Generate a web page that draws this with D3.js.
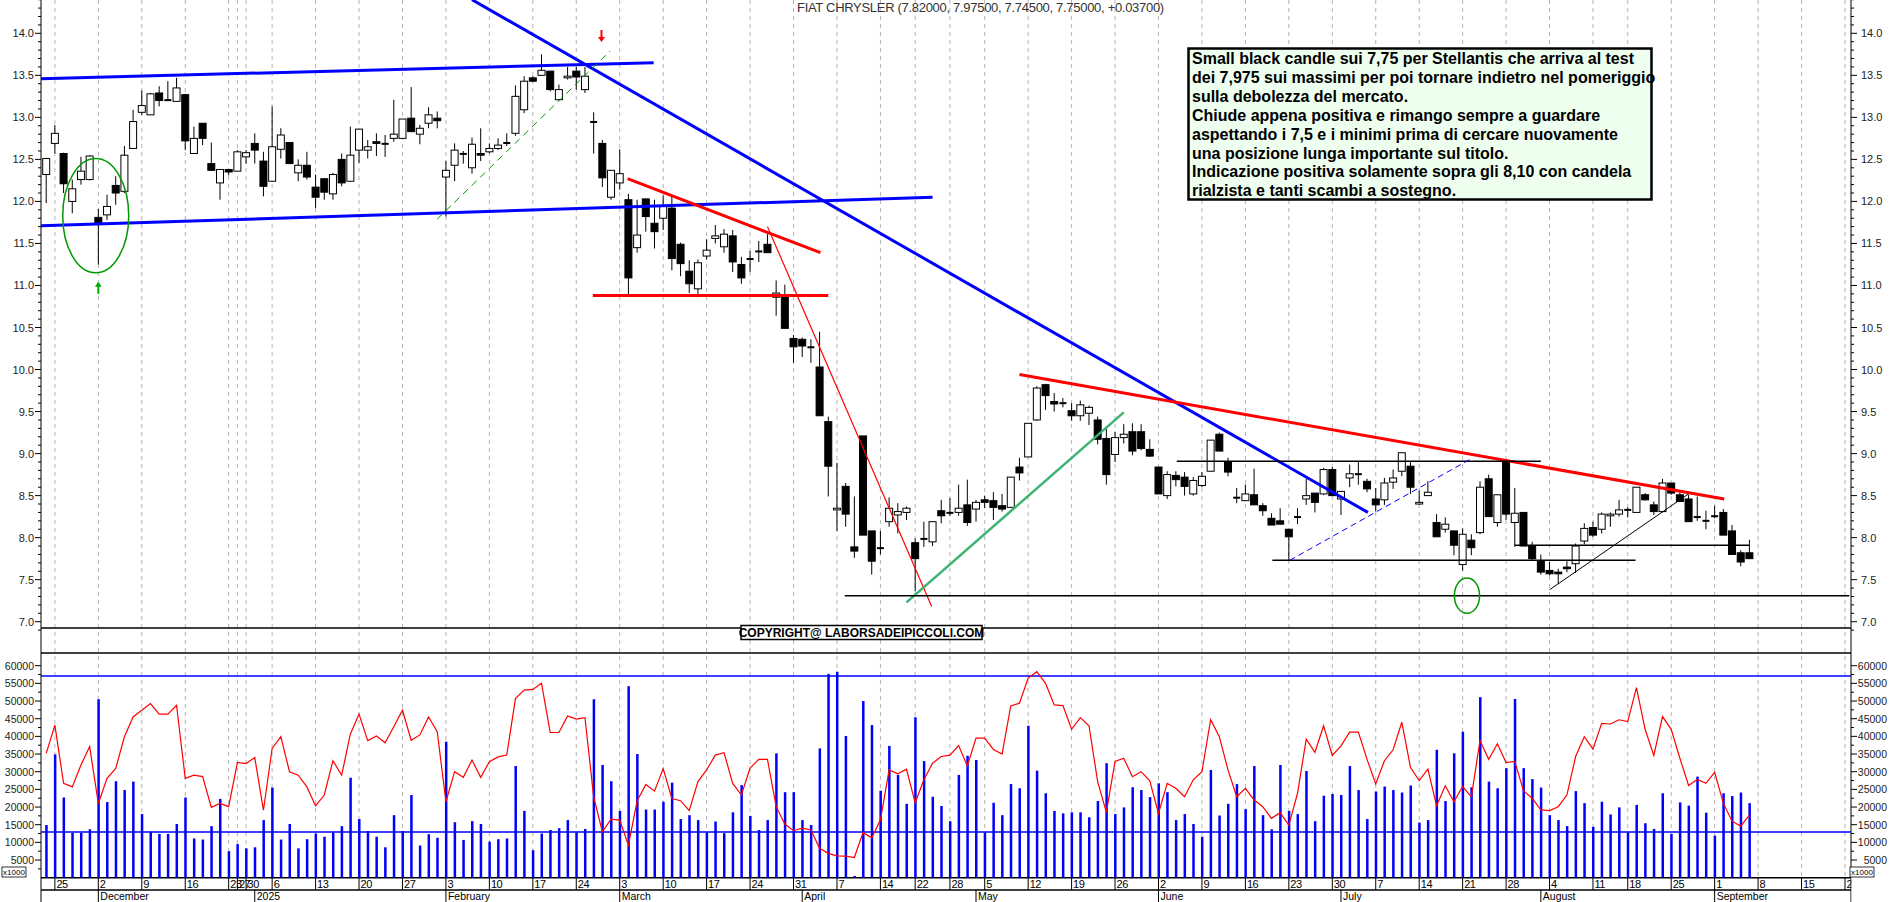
<!DOCTYPE html>
<html><head><meta charset="utf-8">
<script src="https://cdn.jsdelivr.net/npm/d3@7"></script>
<style>body{margin:0;background:#fff}svg{display:block}text{font-family:"Liberation Sans",Arial,sans-serif}</style>
</head><body>
<svg id="c" width="1890" height="902"></svg>
<script>
// ---------------- DATA ----------------
const startDate = "2024-11-22";
const endCalendar = "2025-09-30";
const holidays = ["2024-12-24","2024-12-25","2024-12-26","2024-12-31","2025-01-01","2025-04-18","2025-04-21","2025-05-01","2025-08-15"];
const nBars = 197;
const openP = [12.32,12.69,12.57,12.0,12.26,12.26,11.81,11.84,12.19,12.12,12.63,13.06,13.03,13.29,13.2,13.19,13.27,12.57,12.93,12.45,12.22,12.38,12.36,12.53,12.69,12.48,12.24,12.62,12.7,12.34,12.43,12.17,12.27,12.09,12.5,12.24,12.61,12.61,12.71,12.69,12.75,12.75,12.99,12.8,12.93,12.99,12.29,12.43,12.56,12.4,12.57,12.59,12.63,12.7,12.81,13.09,13.47,13.5,13.55,13.21,13.47,13.55,13.33,12.95,12.69,12.05,12.22,12.02,11.45,12.03,11.74,11.8,11.92,11.49,11.17,10.96,11.35,11.56,11.46,11.59,11.25,11.31,11.4,11.49,10.86,10.87,10.37,10.36,10.27,10.03,9.38,8.33,8.61,7.89,9.21,8.08,7.88,8.19,8.27,8.3,7.94,7.98,7.95,8.32,8.3,8.3,8.39,8.34,8.45,8.44,8.38,8.36,8.84,8.96,9.40,9.82,9.62,9.6,9.51,9.45,9.48,9.4,9.18,8.99,9.19,9.26,9.26,9.05,8.84,8.5,8.74,8.72,8.52,8.62,8.79,9.23,8.9,8.48,8.44,8.51,8.38,8.23,8.2,8.1,8.25,8.46,8.53,8.52,8.81,8.46,8.71,8.76,8.67,8.46,8.45,8.66,8.79,8.85,8.4,8.5,8.18,8.1,8.08,7.68,7.97,8.06,8.7,8.18,8.9,8.18,8.3,7.9,7.72,7.61,7.59,7.65,7.69,7.96,8.12,8.1,8.26,8.28,8.33,8.3,8.51,8.39,8.31,8.65,8.51,8.46,8.25,8.2,8.26,8.3,8.08,7.82,7.82];
const highP = [12.52,12.91,12.58,12.26,12.53,12.55,11.91,12.08,12.3,12.66,13.09,13.32,13.29,13.37,13.43,13.47,13.28,12.89,12.93,12.7,12.38,12.38,12.61,12.61,12.81,12.59,13.13,12.87,12.7,12.5,12.59,12.32,12.27,12.34,12.57,12.89,12.86,12.73,12.81,12.79,13.21,12.98,13.36,12.91,13.12,13.07,12.48,12.69,12.6,12.76,12.87,12.69,12.75,12.81,13.38,13.49,13.49,13.75,13.55,13.39,13.6,13.6,13.6,13.06,12.73,12.37,12.62,12.09,12.02,12.03,12.02,12.07,12.06,11.51,11.3,11.31,11.55,11.72,11.67,11.66,11.34,11.41,11.53,11.61,11.06,11.01,10.41,10.38,10.36,10.45,9.44,8.89,8.65,8.49,9.21,8.08,8.08,8.48,8.41,8.37,7.99,8.19,8.19,8.45,8.47,8.63,8.69,8.45,8.5,8.54,8.52,8.72,8.95,9.36,9.8,9.83,9.72,9.66,9.6,9.63,9.57,9.44,9.32,9.26,9.35,9.36,9.35,9.17,8.84,8.79,8.79,8.78,8.72,8.78,9.16,9.25,8.95,8.59,8.63,8.82,8.41,8.29,8.35,8.1,8.35,8.7,8.53,8.83,8.84,8.55,8.87,8.91,8.7,8.59,8.71,8.81,9.01,8.9,8.56,8.67,8.28,8.24,8.08,8.11,8.04,8.67,8.75,8.51,8.91,8.59,8.3,7.95,7.8,7.71,7.63,7.72,7.93,8.17,8.19,8.3,8.3,8.45,8.36,8.6,8.53,8.43,8.7,8.65,8.54,8.51,8.49,8.32,8.38,8.34,8.15,7.85,7.975];
const lowP = [11.98,12.57,12.10,11.86,12.2,12.25,11.25,11.78,11.96,12.1,12.63,13.03,13.03,13.13,13.2,13.19,12.61,12.57,12.67,12.37,12.02,12.31,12.36,12.45,12.45,12.06,12.24,12.51,12.45,12.24,12.26,11.92,12.02,12.02,12.18,12.24,12.46,12.51,12.54,12.53,12.71,12.75,12.83,12.68,12.87,12.87,11.82,12.24,12.45,12.33,12.48,12.57,12.61,12.66,12.78,13.05,13.42,13.5,13.31,13.2,13.45,13.33,13.29,12.57,12.17,12.02,12.14,10.87,11.39,11.64,11.44,11.66,11.18,11.11,10.91,10.86,11.31,11.5,11.39,11.16,11.02,11.16,11.28,11.39,10.64,10.49,10.08,10.15,10.08,9.45,8.49,8.08,8.13,7.76,8.03,7.56,7.80,8.13,8.05,8.21,7.36,7.89,7.9,8.17,8.26,8.26,8.14,8.19,8.35,8.21,8.31,8.36,8.68,8.96,9.39,9.52,9.50,9.55,9.39,9.39,9.34,9.11,8.63,8.9,9.12,8.98,9.04,8.96,8.52,8.46,8.61,8.5,8.5,8.6,8.79,9.03,8.73,8.41,8.44,8.39,8.26,8.15,8.16,7.72,8.16,8.39,8.3,8.51,8.5,8.27,8.6,8.63,8.54,8.31,8.39,8.58,8.73,8.52,8.39,8.5,8.01,8.06,7.79,7.61,7.79,8.04,8.25,8.13,8.21,7.89,7.9,7.73,7.56,7.55,7.45,7.59,7.58,7.92,8.01,8.05,8.13,8.25,8.24,8.3,8.44,8.27,8.3,8.51,8.43,8.19,8.2,8.1,8.23,8.03,7.8,7.66,7.745];
const closeP = [12.51,12.81,12.21,12.15,12.36,12.54,11.75,11.94,12.1,12.55,12.95,13.14,13.28,13.2,13.21,13.35,12.72,12.75,12.75,12.37,12.38,12.35,12.59,12.58,12.61,12.18,12.65,12.79,12.45,12.43,12.29,12.05,12.11,12.32,12.22,12.55,12.86,12.65,12.69,12.68,12.8,12.98,12.83,12.87,13.03,12.96,12.37,12.61,12.57,12.68,12.55,12.63,12.67,12.69,13.25,13.43,13.43,13.56,13.33,13.33,13.49,13.48,13.49,12.94,12.28,12.37,12.33,11.09,11.6,11.82,11.64,11.94,11.32,11.26,11.02,11.27,11.42,11.59,11.61,11.28,11.09,11.32,11.41,11.39,10.91,10.49,10.27,10.28,10.26,9.45,8.85,8.35,8.28,7.84,8.03,7.72,7.87,8.35,8.31,8.35,7.75,7.99,8.19,8.26,8.29,8.35,8.18,8.42,8.42,8.36,8.34,8.72,8.77,9.36,9.78,9.69,9.59,9.6,9.45,9.58,9.55,9.17,8.75,9.19,9.23,9.03,9.06,8.97,8.52,8.75,8.69,8.61,8.68,8.73,9.16,9.03,8.78,8.47,8.52,8.39,8.32,8.15,8.16,8.01,8.24,8.5,8.42,8.81,8.5,8.55,8.76,8.75,8.58,8.39,8.65,8.71,9.01,8.6,8.42,8.54,8.01,8.16,7.91,8.04,7.88,8.6,8.25,8.51,8.28,8.29,7.9,7.75,7.59,7.57,7.57,7.63,7.9,8.11,8.03,8.28,8.28,8.33,8.33,8.6,8.45,8.31,8.65,8.53,8.43,8.19,8.24,8.2,8.25,8.03,7.8,7.71,7.75];
// volume in thousands
const volume = [14.9,34.9,22.7,12.7,12.7,13.7,50.5,21.4,27.3,24.8,27.2,18.0,13.0,12.4,12.4,15.2,22.7,11.1,10.8,14.6,22.3,7.5,9.5,8.3,8.6,16.3,25.5,10.8,15.2,8.3,10.9,12.5,11.6,12.8,14.6,28.3,16.6,13.2,11.6,8.6,17.7,13.2,23.4,9.1,12.3,11.3,38.5,15.7,10.7,16.0,15.2,10.2,10.9,11.1,31.6,18.9,7.8,12.5,13.5,14.0,16.3,12.8,13.8,50.5,31.9,27.3,18.9,54.2,35.0,19.3,19.3,21.5,26.9,16.6,17.7,16.3,
12.8,15.9,12.6,18.5,26.2,17.5,13.5,16.3,35.2,24.2,24.2,16.3,14.9,36.6,57.7,58.3,40.1,0.5,50.0,43.2,24.6,37.3,29.1,20.9,45.4,33.0,22.9,20.3,16.0,29.1,34.5,33.3,12.8,21.2,17.7,26.5,25.3,43.0,30.3,23.9,18.9,18.2,18.5,18.5,17.1,21.7,32.4,18.0,19.9,25.6,24.8,22.8,26.7,24.2,16.3,18.0,15.2,11.6,30.5,17.6,20.9,26.5,19.4,31.6,17.7,13.7,31.9,18.9,18.0,
30.2,16.0,23.2,23.7,23.4,31.6,24.8,16.6,24.4,25.8,24.8,24.1,26.1,15.6,16.3,36.2,21.7,35.2,41.3,25.6,51.1,27.2,25.3,31.0,50.6,31.0,27.9,25.5,17.7,16.3,14.6,24.5,21.1,14.4,21.5,17.9,19.9,12.8,20.6,15.4,13.8,23.9,12.4,21.3,20.4,28.6,18.4,11.9,23.9,23.1,24.1,21.1];
const redLine = [35.2,43.2,26.7,25.7,31.9,37.1,21.0,28.1,30.9,39.9,45.5,47.4,49.3,46.3,46.3,48.8,28.1,29.0,28.6,19.9,21.0,20.1,32.6,32.3,34.0,19.1,36.6,39.9,30.0,29.0,25.7,20.3,23.4,33.1,29.0,40.6,46.3,38.8,40.1,38.2,42.7,47.4,38.9,40.4,45.5,41.3,21.5,30.0,28.4,33.3,28.4,32.8,34.2,34.7,50.7,53.1,53.3,55.0,41.1,41.1,45.8,44.9,45.3,22.9,13.0,16.6,16.3,9.2,21.7,26.4,24.5,30.9,22.4,21.8,19.0,27.2,
30.5,34.7,35.4,26.7,23.4,31.0,33.5,33.5,20.1,15.2,13.3,14.0,13.5,8.3,6.9,6.2,6.1,5.7,12.8,11.3,16.3,30.5,29.4,30.7,21.2,27.7,32.4,34.3,34.7,37.4,31.6,39.5,39.5,36.3,35.0,48.6,49.4,56.5,58.3,55.0,48.9,48.7,42.0,45.3,43.0,27.2,18.5,32.9,33.8,28.6,30.0,27.4,18.2,26.7,25.3,22.9,27.7,30.0,44.7,39.9,30.5,22.9,25.3,22.0,20.1,16.8,18.4,14.9,23.9,
39.2,35.5,43.0,34.6,37.3,41.2,41.2,33.5,26.5,33.1,36.2,44.0,31.2,27.5,30.7,20.4,26.0,21.5,25.8,22.9,38.8,33.5,37.9,32.6,32.9,24.6,22.5,19.2,19.0,20.1,23.4,34.3,39.9,36.4,43.7,43.5,44.7,44.2,53.8,42.0,34.6,45.6,42.0,33.8,26.1,27.8,26.7,29.8,21.1,16.0,14.6,17.7];
const volLevels = [57.1, 12.9];
const priceTicks = [7.0,7.5,8.0,8.5,9.0,9.5,10.0,10.5,11.0,11.5,12.0,12.5,13.0,13.5,14.0];
const volTicks = [5000,10000,15000,20000,25000,30000,35000,40000,45000,50000,55000,60000];
const monthNames = {"2024-12":"December","2025-01":"2025","2025-02":"February","2025-03":"March","2025-04":"April","2025-05":"May","2025-06":"June","2025-07":"July","2025-08":"August","2025-09":"September"};
const titleText = "FIAT CHRYSLER (7.82000, 7.97500, 7.74500, 7.75000, +0.03700)";
const noteLines = ["Small black candle sui 7,75 per Stellantis che arriva al test","dei 7,975 sui massimi per poi tornare indietro nel pomeriggio","sulla debolezza del mercato.","Chiude appena positiva e rimango sempre a guardare","aspettando i 7,5 e i minimi prima di cercare nuovamente","una posizione lunga importante sul titolo.","Indicazione positiva solamente sopra gli 8,10 con candela","rialzista e tanti scambi a sostegno."];
const copyrightText = "COPYRIGHT@ LABORSADEIPICCOLI.COM";
// trend lines: [idx1, price1, idx2, price2, colour, width, dash]
const trendLines = [
 [-0.6,13.46,69.9,13.65,"#0000ff",3,null],
 [-0.6,11.71,102,12.05,"#0000ff",3,null],
 [49.0,14.4,152.1,8.30,"#0000ff",3,null],
 [66.9,12.27,89.1,11.39,"#ff0000",3,null],
 [62.9,10.88,90.0,10.88,"#ff0000",3,null],
 [83.0,11.70,101.9,7.18,"#ff0000",1.2,null],
 [99.0,7.23,124.0,9.49,"#3cb371",2.5,null],
 [112.0,9.94,193.1,8.46,"#ff0000",3,null],
 [91.9,7.31,207.5,7.31,"#000",1.5,null],
 [130.1,8.91,172.0,8.91,"#000",1.5,null],
 [141.1,7.73,182.9,7.73,"#000",1.5,null],
 [169.0,7.91,196.0,7.91,"#000",1.5,null],
 [143.1,7.73,164.0,8.94,"#0000ff",1,"6,4"],
 [173.0,7.38,189.0,8.52,"#000",1,null],
 [45.0,11.79,64.9,13.79,"#009900",1,"7,5"]
];
// ellipses: [idx, price, rx(days), ry(price)]
const ellipses = [[5.7,11.83,3.8,0.68],[163.5,7.31,1.45,0.21]];

// ---------------- CALENDAR ----------------
const fmt = d3.timeFormat("%Y-%m-%d");
const days = [];
for (let d = new Date(startDate+"T12:00:00"); fmt(d) <= endCalendar; d.setDate(d.getDate()+1)) {
  const wd = d.getDay();
  if (wd === 0 || wd === 6 || holidays.includes(fmt(d))) continue;
  days.push(new Date(d));
}

// ---------------- SCALES ----------------
const L = 41, R = 1851;
const x = d3.scaleLinear().domain([0, nBars-1]).range([46.2, 1749.4]);
const y = d3.scaleLinear().domain([7,14]).range([621.7,33.3]);
const yv = d3.scaleLinear().domain([0,60000]).range([877.7,665.7]);
const svg = d3.select("#c");

// gridlines + date axis
const weekStarts = [];
days.forEach((d,i)=>{ if (i===0) return; const p = days[i-1]; if (d.getDay() < p.getDay() || (d - p) > 3*864e5) weekStarts.push(i); });
const monthStarts = [];
days.forEach((d,i)=>{ if (i>0 && d.getMonth() !== days[i-1].getMonth()) monthStarts.push(i); });
const gx = weekStarts.filter(i=>x(i) < R);
svg.append("g").selectAll("line").data(gx).join("line")
  .attr("x1",i=>x(i)).attr("x2",i=>x(i)).attr("y1",0).attr("y2",877)
  .attr("stroke","#b4b4b4").attr("stroke-dasharray","4,4");

// panel frame lines
const fr = svg.append("g").attr("stroke","#000");
fr.append("line").attr("x1",L).attr("x2",L).attr("y1",0).attr("y2",902);
fr.append("line").attr("x1",R).attr("x2",R).attr("y1",0).attr("y2",902);
fr.append("line").attr("x1",L).attr("x2",R).attr("y1",628).attr("y2",628).attr("stroke-width",1.5);
fr.append("line").attr("x1",L).attr("x2",R).attr("y1",653).attr("y2",653).attr("stroke-width",1.5);
fr.append("line").attr("x1",L).attr("x2",R).attr("y1",877.7).attr("y2",877.7).attr("stroke-width",1.5);
fr.append("line").attr("x1",L).attr("x2",R).attr("y1",890).attr("y2",890).attr("stroke-width",1.5);

// date labels
const dl = svg.append("g").attr("font-size",11).attr("fill","#000");
gx.forEach(i=>{
  dl.append("line").attr("x1",x(i)).attr("x2",x(i)).attr("y1",878).attr("y2",890).attr("stroke","#000");
  dl.append("text").attr("x",x(i)+1.5).attr("y",888).attr("letter-spacing",-0.4).text(days[i].getDate());
});
monthStarts.filter(i=>x(i)<R).forEach(i=>{
  const key = d3.timeFormat("%Y-%m")(days[i]);
  dl.append("line").attr("x1",x(i)).attr("x2",x(i)).attr("y1",890).attr("y2",902).attr("stroke","#000");
  dl.append("text").attr("x",x(i)+2).attr("y",900).attr("font-size",10.5).text(monthNames[key]||"");
});
// hide overflow beyond right axis
svg.append("rect").attr("x",R+0.5).attr("y",877).attr("width",40).attr("height",25).attr("fill","#fff");

// price axes
const ax = svg.append("g").attr("font-size",11).attr("fill","#222");
d3.range(69, 145).map(v=>v/10).forEach(v=>{
  const major = Math.abs(v*2 - Math.round(v*2)) < 1e-6;
  ax.append("line").attr("x1",L-(major?6:3)).attr("x2",L).attr("y1",y(v)).attr("y2",y(v)).attr("stroke","#000");
  ax.append("line").attr("x1",R).attr("x2",R+(major?6:3)).attr("y1",y(v)).attr("y2",y(v)).attr("stroke","#000");
});
priceTicks.forEach(v=>{
  ax.append("text").attr("x",34).attr("y",y(v)+4).attr("text-anchor","end").text(v.toFixed(1));
  ax.append("text").attr("x",1861).attr("y",y(v)+4).text(v.toFixed(1));
});
d3.range(2500,62500,2500).forEach(v=>{
  const major = v%5000===0;
  ax.append("line").attr("x1",L-(major?6:3)).attr("x2",L).attr("y1",yv(v)).attr("y2",yv(v)).attr("stroke","#000");
  ax.append("line").attr("x1",R).attr("x2",R+(major?6:3)).attr("y1",yv(v)).attr("y2",yv(v)).attr("stroke","#000");
});
volTicks.forEach(v=>{
  ax.append("text").attr("x",34).attr("y",yv(v)+4).attr("text-anchor","end").attr("font-size",10.5).text(v);
  ax.append("text").attr("x",1887).attr("y",yv(v)+4).attr("text-anchor","end").attr("font-size",10.5).text(v);
});
[2,1850].forEach(px=>{
  const g = svg.append("g");
  g.append("rect").attr("x",px).attr("y",867).attr("width",24).attr("height",10).attr("fill","#fff").attr("stroke","#000").attr("stroke-width",0.8);
  g.append("text").attr("x",px+12).attr("y",875).attr("text-anchor","middle").attr("font-size",8).text("x1000");
});

// volume
const vg = svg.append("g");
vg.selectAll("rect").data(volume).join("rect")
  .attr("x",(v,i)=>x(i)-1).attr("width",2.5)
  .attr("y",v=>yv(v*1000)).attr("height",v=>yv(0)-yv(v*1000)).attr("fill","#0000ff");
volLevels.forEach(v=>vg.append("line").attr("x1",L).attr("x2",R).attr("y1",yv(v*1000)).attr("y2",yv(v*1000)).attr("stroke","#0000ff").attr("stroke-width",1.5));
vg.append("path").datum(redLine).attr("fill","none").attr("stroke","#ff0000").attr("stroke-width",1.2)
  .attr("d",d3.line().x((v,i)=>x(i)).y(v=>yv(v*1000)));

// candles
const cg = svg.append("g");
d3.range(nBars).forEach(i=>{
  const o=openP[i],h=highP[i],l=lowP[i],c=closeP[i];
  cg.append("line").attr("x1",x(i)).attr("x2",x(i)).attr("y1",y(h)).attr("y2",y(l)).attr("stroke","#000");
  const top = y(Math.max(o,c)), bot = y(Math.min(o,c));
  if (bot-top < 1.5) {
    cg.append("line").attr("x1",x(i)-3.5).attr("x2",x(i)+3.5).attr("y1",(top+bot)/2).attr("y2",(top+bot)/2).attr("stroke","#000").attr("stroke-width",2);
  } else {
    cg.append("rect").attr("x",x(i)-3.5).attr("width",7).attr("y",top).attr("height",bot-top)
      .attr("fill",c>=o?"#fff":"#000").attr("stroke","#000");
  }
});

// trend lines
const tg = svg.append("g");
trendLines.forEach(([i1,p1,i2,p2,col,w,dash])=>{
  tg.append("line").attr("x1",x(i1)).attr("y1",y(p1)).attr("x2",x(i2)).attr("y2",y(p2))
    .attr("stroke",col).attr("stroke-width",w).attr("stroke-dasharray",dash);
});
ellipses.forEach(([i,p,rx,ry])=>{
  tg.append("ellipse").attr("cx",x(i)).attr("cy",y(p)).attr("rx",x(rx)-x(0)).attr("ry",y(0)-y(ry))
    .attr("fill","none").attr("stroke","#009900").attr("stroke-width",1.5);
});
// arrows
const arrow = (i,p,dir,col)=>{
  const cx=x(i), cy=y(p);
  tg.append("line").attr("x1",cx).attr("x2",cx).attr("y1",cy-5).attr("y2",cy+5).attr("stroke",col).attr("stroke-width",2);
  const t = dir>0 ? [[cx-3.5,cy+2],[cx+3.5,cy+2],[cx,cy+7]] : [[cx-3.5,cy-2],[cx+3.5,cy-2],[cx,cy-7]];
  tg.append("polygon").attr("points",t.map(q=>q.join(",")).join(" ")).attr("fill",col);
};
arrow(63.9,13.98,1,"#ff0000");
arrow(6.0,10.96,-1,"#00aa00");

// title
svg.append("text").attr("x",797).attr("y",12).attr("font-size",13).attr("fill","#333").attr("letter-spacing",-0.3).text(titleText);

// note box
const nb = svg.append("g");
nb.append("rect").attr("x",1188.5).attr("y",48.5).attr("width",463).attr("height",151).attr("fill","#efffef").attr("stroke","#000").attr("stroke-width",2.5);
noteLines.forEach((t,k)=>nb.append("text").attr("x",1192).attr("y",64+k*18.9).attr("font-size",16).attr("font-weight","bold")
  .attr("font-family","'Liberation Sans Narrow','Arial Narrow',sans-serif").text(t));

// copyright
const cb = svg.append("g");
cb.append("rect").attr("x",741).attr("y",625.5).attr("width",241).attr("height",14).attr("fill","#fff").attr("stroke","#000").attr("stroke-width",1.5);
cb.append("text").attr("x",861.5).attr("y",637).attr("text-anchor","middle").attr("font-size",12).attr("font-weight","bold").text(copyrightText);
</script>
</body></html>
